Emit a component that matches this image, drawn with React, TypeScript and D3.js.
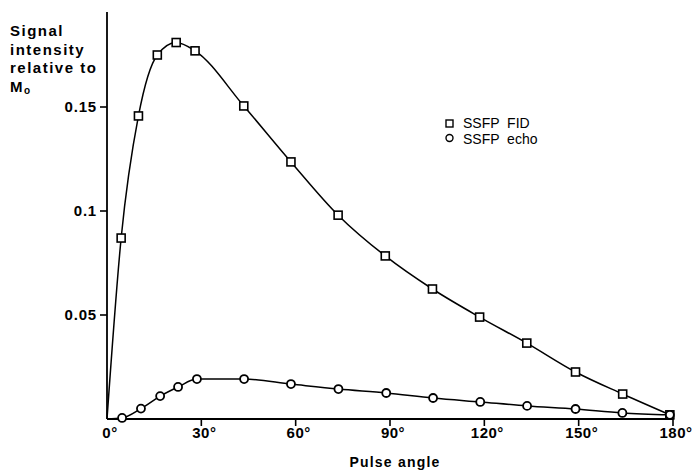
import React from "react";
import * as d3 from "d3";

const fidAngles = [4.5, 10, 16, 22, 28, 43.5, 58.5, 73.5, 88.5, 103.5, 118.5, 133.5, 149, 164, 179];
const fidValues = [0.087, 0.1457, 0.175, 0.181, 0.177, 0.1505, 0.1236, 0.098, 0.0784, 0.0625, 0.049, 0.0365, 0.0226, 0.012, 0.002];
const echoAngles = [4.8, 10.8, 16.9, 22.6, 28.6, 43.6, 58.5, 73.6, 88.8, 103.7, 118.7, 133.6, 149, 163.9, 179];
const echoValues = [0.0005, 0.005, 0.011, 0.0154, 0.0192, 0.0192, 0.0168, 0.0144, 0.0125, 0.0101, 0.0082, 0.0063, 0.0048, 0.0029, 0.002];
const xTicks = [0, 30, 60, 90, 120, 150, 180];
const xTickLabels = ["0°", "30°", "60°", "90°", "120°", "150°", "180°"];
const yTicks = [0.05, 0.1, 0.15];
const yTickLabels = ["0.05", "0.1", "0.15"];
const legendLabels = ["SSFP  FID", "SSFP  echo"];

const FONT = "'Liberation Sans', Arial, sans-serif";

export default function App() {
  const x = d3.scaleLinear().domain([0, 180]).range([107, 673]);
  const y = d3.scaleLinear().domain([0, 0.15]).range([419, 107]);
  const line = d3
    .line<[number, number]>()
    .x((d) => x(d[0]))
    .y((d) => y(d[1]))
    .curve(d3.curveMonotoneX);

  const fidPts: [number, number][] = [[0, 0], ...fidAngles.map((a, i) => [a, fidValues[i]] as [number, number])];
  const echoPts: [number, number][] = [[0, 0], ...echoAngles.map((a, i) => [a, echoValues[i]] as [number, number])];

  return (
    <svg
      width={692}
      height={470}
      style={{ position: "absolute", left: 0, top: 0, background: "#fff" }}
      fontFamily={FONT}
    >
      {/* axes */}
      <line x1={x(0)} x2={x(0)} y1={12} y2={y(0)} stroke="#000" strokeWidth={1.8} />
      <line x1={x(0)} x2={x(180)} y1={y(0)} y2={y(0)} stroke="#000" strokeWidth={1.8} />
      {yTicks.map((t, i) => (
        <g key={"y" + i}>
          <line x1={x(0) - 7} x2={x(0)} y1={y(t)} y2={y(t)} stroke="#000" strokeWidth={1.6} />
          <text x={x(0) - 10} y={y(t) + 5} textAnchor="end" fontSize={15} fontWeight={600} letterSpacing={0.8}>
            {yTickLabels[i]}
          </text>
        </g>
      ))}
      {xTicks.map((t, i) => (
        <g key={"x" + i}>
          {i > 0 && <line x1={x(t)} x2={x(t)} y1={y(0)} y2={y(0) + 7} stroke="#000" strokeWidth={1.6} />}
          <text x={x(t) + 3} y={y(0) + 19} textAnchor="middle" fontSize={15} fontWeight={600} letterSpacing={0.5}>
            {xTickLabels[i]}
          </text>
        </g>
      ))}
      <text x={395} y={467} textAnchor="middle" fontSize={14} fontWeight={600} letterSpacing={1.2}>
        Pulse angle
      </text>
      <g fontSize={15} fontWeight={600} letterSpacing={1.5}>
        <text x={10} y={36}>Signal</text>
        <text x={10} y={55}>intensity</text>
        <text x={10} y={73}>relative to</text>
        <text x={10} y={92}>
          M<tspan fontSize={10} dy={2}>o</tspan>
        </text>
      </g>

      {/* curves */}
      <path d={line(fidPts) || ""} fill="none" stroke="#000" strokeWidth={1.5} />
      <path d={line(echoPts) || ""} fill="none" stroke="#000" strokeWidth={1.5} />

      {fidAngles.map((a, i) => (
        <rect
          key={"f" + i}
          x={x(a) - 4}
          y={y(fidValues[i]) - 4}
          width={8}
          height={8}
          fill="#fff"
          stroke="#000"
          strokeWidth={1.6}
        />
      ))}
      {echoAngles.map((a, i) => (
        <circle key={"e" + i} cx={x(a)} cy={y(echoValues[i])} r={4} fill="#fff" stroke="#000" strokeWidth={1.8} />
      ))}

      {/* legend */}
      <rect x={446} y={120} width={7} height={7} fill="#fff" stroke="#000" strokeWidth={1.4} />
      <text x={463} y={128} fontSize={14} style={{ whiteSpace: "pre" }}>
        {legendLabels[0]}
      </text>
      <circle cx={449.5} cy={138} r={3.5} fill="#fff" stroke="#000" strokeWidth={1.4} />
      <text x={463} y={144} fontSize={14} style={{ whiteSpace: "pre" }}>
        {legendLabels[1]}
      </text>
    </svg>
  );
}
